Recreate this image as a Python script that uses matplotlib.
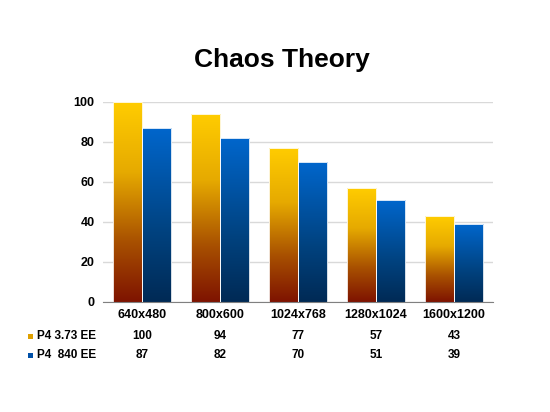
import numpy as np
import matplotlib
matplotlib.use("Agg")
import matplotlib.pyplot as plt
from matplotlib.colors import LinearSegmentedColormap
from matplotlib.patches import Rectangle

# Datos
categorias = ["640x480", "800x600", "1024x768", "1280x1024", "1600x1200"]
serie_373 = [100, 94, 77, 57, 43]
serie_840 = [87, 82, 70, 51, 39]
nombres = ["P4 3.73 EE", "P4  840 EE"]
titulo = "Chaos Theory"

plt.rcParams['font.family'] = ['Liberation Sans', 'DejaVu Sans']

# Degradados (abajo -> arriba)
cmap_oro = LinearSegmentedColormap.from_list(
    "oro", [(0.0, "#7e1300"), (0.3, "#a85000"), (0.65, "#e6aa00"), (1.0, "#ffcc00")])
cmap_azul = LinearSegmentedColormap.from_list(
    "azul", [(0.0, "#002a55"), (0.4, "#00427f"), (1.0, "#0066cc")])

fig = plt.figure(figsize=(5.5, 4.12), dpi=100)
ax = fig.add_axes([103/550, 110/412, 390/550, 200/412])

x = np.arange(len(categorias))
ancho = 0.375
b1 = ax.bar(x - ancho/2, serie_373, ancho, color="none", edgecolor="none", zorder=3)
b2 = ax.bar(x + ancho/2, serie_840, ancho, color="none", edgecolor="none", zorder=3)

grad = np.linspace(0, 1, 256).reshape(-1, 1)
for barras, cmap in [(b1, cmap_oro), (b2, cmap_azul)]:
    for b in barras:
        x0, y0 = b.get_x(), b.get_y()
        w, h = b.get_width(), b.get_height()
        im = ax.imshow(grad, cmap=cmap, origin="lower", aspect="auto",
                       extent=[x0, x0 + w, y0, y0 + h], zorder=3)
        im.set_clip_path(b)
        ax.add_patch(Rectangle((x0, y0), w, h, fill=False, edgecolor="white",
                               linewidth=0.6, zorder=4))

ax.set_xlim(-0.5, len(categorias) - 0.5)
ax.set_ylim(0, 100)
ax.set_yticks([0, 20, 40, 60, 80, 100])
ax.set_xticks(x)
ax.set_xticklabels(categorias, fontsize=9, fontweight="bold")
for t in ax.get_yticklabels():
    t.set_fontsize(9)
    t.set_fontweight("bold")
ax.tick_params(axis="both", length=0)
ax.tick_params(axis="y", pad=6)
ax.tick_params(axis="x", pad=5)
ax.yaxis.grid(True, color="#d9d9d9", linewidth=1, zorder=0)
ax.set_axisbelow(True)
for lado in ["left", "right", "top"]:
    ax.spines[lado].set_visible(False)
ax.spines["bottom"].set_color("#808080")
ax.spines["bottom"].set_zorder(5)

fig.text(282/550, 1 - 60/412, titulo, ha="center", va="center",
         fontsize=19, fontweight="bold")

# Tabla de datos
filas_y = [1 - 336/412, 1 - 355/412]
trans = matplotlib.transforms.blended_transform_factory(ax.transData, fig.transFigure)
colores_ley = ["#dfa000", "#0050a8"]
for fila, (nombre, valores, col) in enumerate(zip(nombres, [serie_373, serie_840], colores_ley)):
    yy = filas_y[fila]
    fig.add_artist(Rectangle((28/550, yy - 2.5/412), 5/550, 5/412,
                             facecolor=col, edgecolor="none", transform=fig.transFigure))
    fig.text(37/550, yy, nombre, ha="left", va="center", fontsize=8.5, fontweight="bold")
    for i, v in enumerate(valores):
        ax.text(x[i], yy, str(v), transform=trans, ha="center", va="center",
                fontsize=8.5, fontweight="bold")

fig.savefig("out.png", dpi=100)
